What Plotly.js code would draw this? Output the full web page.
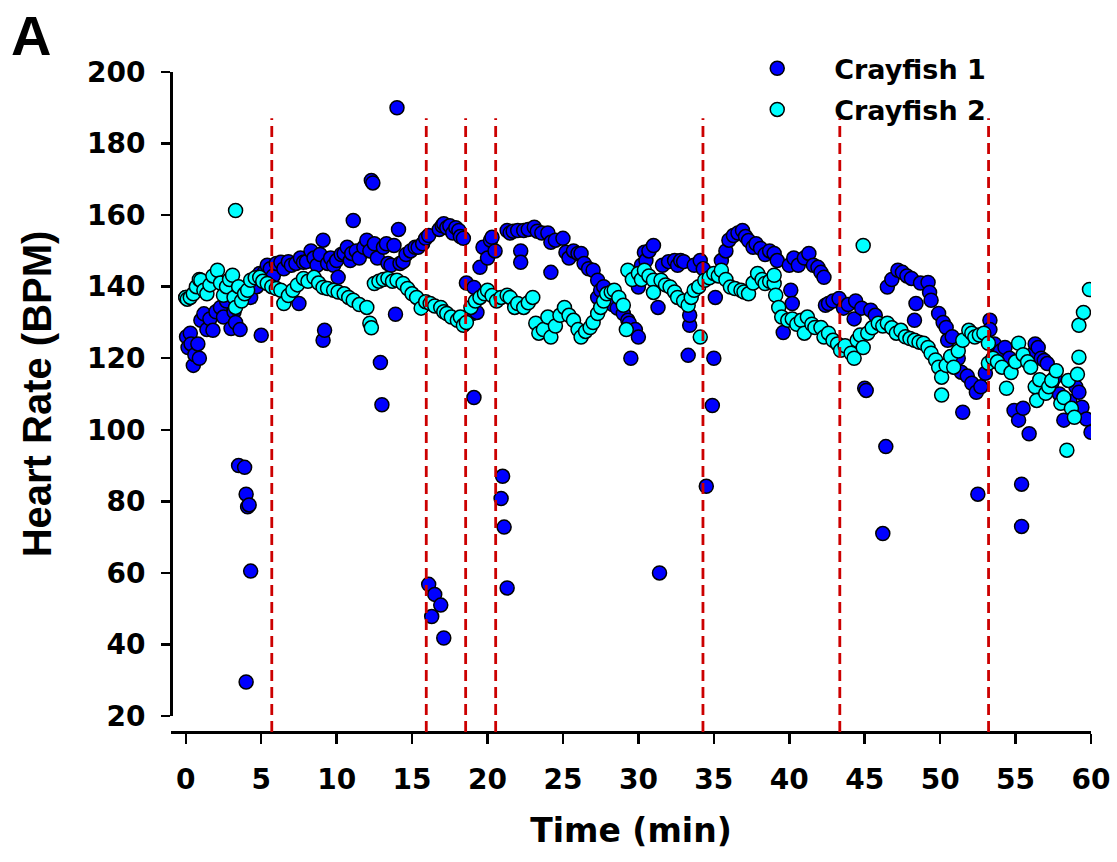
<!DOCTYPE html>
<html>
<head>
<meta charset="utf-8">
<script src="https://cdn.plot.ly/plotly-3.0.1.min.js"></script>
<style>html,body{margin:0;padding:0;background:#fff;}#chart{width:1117px;height:862px;}</style>
</head>
<body>
<div id="chart"></div>
<script>
// Crayfish 1 (blue): time (min) and heart rate (BPM)
const t1 = [0.0,0.05,0.1,0.15,0.3,0.35,0.5,0.6,0.8,0.9,1.0,1.2,1.4,1.6,1.8,2.0,2.3,2.5,2.7,3.0,3.2,3.3,3.5,3.6,3.9,4.0,4.0,4.1,4.2,4.3,4.3,4.5,4.7,4.9,5.0,
5.2,5.4,5.6,5.8,6.0,6.3,6.5,6.8,7.0,7.3,7.5,7.6,7.8,8.0,8.3,8.5,8.7,8.9,9.1,9.1,9.2,9.4,9.6,9.8,10.0,10.1,10.3,10.5,10.7,10.9,11.0,11.1,11.3,11.5,11.8,12.0,12.2,12.3,12.4,12.5,12.7,12.9,13.0,13.1,13.3,13.4,13.6,13.8,13.9,14.0,14.1,14.2,14.4,14.6,14.9,15.2,15.4,15.7,15.9,16.1,16.1,16.3,16.5,16.9,17.1,16.8,17.0,17.1,17.3,17.5,17.7,17.9,18.1,18.2,18.4,18.6,19.0,19.1,19.1,19.3,19.5,19.7,20.0,20.2,20.3,20.5,20.9,21.0,21.1,21.3,21.3,21.5,21.7,22.0,22.2,22.2,22.4,22.7,23.1,23.3,23.6,24.0,24.2,24.2,24.5,25.0,25.2,25.4,25.7,26.0,26.2,26.4,26.7,27.0,27.3,27.3,27.5,27.7,28.0,28.3,28.6,29.0,29.3,29.4,29.5,29.8,30.0,30.0,30.2,30.4,30.5,30.7,31.0,31.3,31.4,31.6,32.0,32.4,32.6,32.8,33.0,33.3,33.4,33.4,33.7,34.1,34.3,34.5,34.9,35.0,35.1,35.5,35.8,36.0,36.3,36.6,36.9,37.1,37.3,37.6,37.8,38.1,38.4,38.7,39.0,39.2,39.6,40.0,40.1,40.2,40.3,40.6,41.0,41.3,41.6,41.9,42.1,42.3,42.4,42.6,42.9,43.3,43.6,43.9,44.3,44.4,44.8,45.0,45.1,45.4,45.7,46.2,46.4,46.5,46.8,47.2,47.5,47.8,48.1,48.3,48.4,48.7,49.2,49.3,49.4,49.9,50.2,50.4,50.5,50.8,51.0,51.2,51.4,51.5,51.8,52.1,52.4,52.5,52.7,53.0,53.3,53.3,53.6,54.0,54.3,54.6,54.9,55.2,55.4,55.4,55.5,55.9,56.1,56.3,56.5,56.7,56.9,57.1,57.4,57.6,57.9,58.2,58.6,59.0,59.2,59.4,59.7,60.0];
const v1 = [137,126,137,123,127,124,118,121,124,120,130.6,132.4,128,131,127.8,133,134.2,131.5,136,128.3,133,130,90,128,89.5,82,29.5,78.5,79,137,60.5,141.8,140,143.7,126.4,
144,146,145,143,146.5,146.8,145,147,146,146.5,135.3,148,146.8,147,150,148,146,149,153,125,127.8,146.5,148,146,147.3,142.6,149,149.3,151,147.3,149.3,158.5,150,148,151,153,150,169.7,169,152,148,118.8,107,151,152,146.5,146,151.5,132.3,190,156,146.5,147,149,150,151,151,152,153.5,154.3,56.8,47.8,54,51,41.8,156,157,157.6,156.5,157,155,156.5,155.7,154,153.5,141,132.5,139.8,109,132.8,145.4,151,148,153,153.8,150,80.8,87,72.8,55.8,155.7,155,155.5,155.7,150,146.8,155.7,156,156.6,155.5,155,155,152.4,144,153,153.5,149.6,148,150,149.3,149.3,146.5,145,144.6,141.8,137,139,140,138,135,134,132.5,130.6,129.8,120,128,125.9,139.9,146,149.6,147.3,150,151.5,134.2,60,146,147,147.3,146,147.3,147,120.8,129.2,132,146,147.3,145,84.2,106.8,120,137,147.3,150,153,154.3,155,155.7,154,152.9,151,152,150.7,149,150,149.3,147.3,127.2,146,139,135.3,148,146,148,149.3,146,145.4,144,142.6,134.8,135.3,136,136.7,134,135,131,136,134,111.6,111,133.4,132,71,95.3,139.9,142,144.6,144,143,142.3,130.6,135.3,141,141.2,138.4,136.2,132.5,130,128.6,125,126,117.5,120,116.1,104.9,115,113,110.5,82,112,115.8,130.6,128,124,122,123,120,105.4,102.7,84.8,73,106,98.9,121,124,123,120,119.4,118.5,113,114.6,110,102.7,108,112,110.5,106.3,103,99.3];

// Crayfish 2 (cyan)
const t2 = [0.0,0.1,0.3,0.5,0.7,0.9,1.0,1.2,1.4,1.6,1.8,2.1,2.3,2.5,2.7,2.9,3.1,3.2,3.3,3.3,3.5,3.7,3.9,4.1,4.3,4.6,4.9,5.1,5.4,5.7,6.0,6.3,6.5,6.8,7.1,7.4,7.8,8.1,8.5,8.8,9.1,9.4,9.8,10.1,10.5,10.8,11.1,11.5,12.0,12.2,12.3,12.5,12.8,13.1,13.4,13.7,14.0,14.4,14.7,15.0,15.3,15.6,15.9,16.2,16.5,16.9,17.1,17.3,17.6,18.0,18.2,18.4,18.6,18.9,19.2,19.5,19.8,20.0,20.3,20.6,20.9,21.3,21.5,21.8,22.0,22.4,22.7,23.0,23.2,23.4,23.7,24.0,24.2,24.5,24.8,25.1,25.4,25.7,26.0,26.2,26.5,26.8,27.0,27.3,27.5,27.7,27.9,28.2,28.4,28.7,29.0,29.2,29.3,29.6,30.0,30.2,30.4,30.7,31.0,31.0,31.5,31.8,32.1,32.4,32.6,33.0,33.3,33.5,33.7,34.0,34.1,34.4,34.7,35.0,35.3,35.5,35.8,36.1,36.4,36.8,37.0,37.3,37.6,37.9,38.2,38.4,38.7,39.0,39.0,39.1,39.3,39.5,39.9,40.2,40.5,40.8,41.0,41.2,41.5,41.7,42.1,42.3,42.6,42.9,43.2,43.4,43.7,44.1,44.3,44.5,44.7,44.9,44.9,45.2,45.5,45.9,46.2,46.5,46.8,47.1,47.4,47.7,48.0,48.3,48.6,48.9,49.2,49.4,49.7,49.9,50.1,50.1,50.4,50.7,50.9,51.2,51.5,51.9,52.1,52.3,52.6,52.9,53.2,53.2,53.5,53.8,54.1,54.4,54.7,55.0,55.2,55.5,55.8,56.0,56.3,56.4,56.6,57.0,57.2,57.4,57.7,58.0,58.2,58.4,58.5,58.7,58.9,59.1,59.2,59.2,59.5,59.9];
const v2 = [137,136.5,137,138,140,142,141.8,139,138,140.5,143,144.6,141,137.6,140,142,143.2,137,161.3,134.2,140,136,138,139,141.8,142.5,142.6,141.5,140.9,140,139.5,139,135.3,137.5,139,140.5,142.3,141.5,142.6,141,139.8,139.5,139,138.5,138,137,136.2,135,134.2,129.8,128.5,140.9,141.5,142,142.3,141.5,141.8,140.9,139.5,138,137,134,135.8,135.3,134.6,134.2,133,132.5,131.5,130.6,131.5,129.2,130,134.2,136,137,138,139,137.5,136,137,137.6,137,134.2,135.3,134.2,135.5,137,129.8,127,128,131.5,125.9,129,132,134.2,132,130.6,128,125.9,127.5,128.6,130,132.5,134.2,136,138,138.5,139,137,134.8,128,144.6,142,143.7,142,144.6,143,141.8,138.4,141.8,140.5,139.9,138.5,137,136,134.8,137,139,140,125.9,141.8,142.5,143.7,143,144.6,142,139.9,139.5,139,138.5,138,141,143.7,142,140.9,141.5,140.9,143.2,137.6,134.2,131.5,130.6,131,129.5,130.6,127,131.5,129.5,128.6,128.6,125.9,127,125,124,122.2,123.5,121.4,120,125,126.5,151.5,123,127,128.5,129.8,129,129.8,128.5,127,127.8,126,125.5,125,124.5,124.2,123,121.4,119.5,117.5,114.7,109.7,118,120.5,117.5,122,125,127.8,127,125.9,126.5,127,124.2,118.6,120,119,117.5,111.6,116,119,124.2,121,119,117.5,112,108.2,114,110.2,112,113.8,116.5,107.4,109,94.3,113.8,106,103.5,115.5,120.3,129.2,132.8,139.2];

// Event markers (min)
const eventTimes = [5.7, 15.94, 18.55, 20.54, 34.28, 43.35, 53.21];

const xTicks = [0,5,10,15,20,25,30,35,40,45,50,55,60];
const yTicks = [20,40,60,80,100,120,140,160,180,200];

const markerLine = {color: '#000000', width: 1.5};
const traces = [
  {x: t1, y: v1, type: 'scatter', mode: 'markers', name: 'Crayfish 1', legendgroup: 'a',
   marker: {color: '#0000FF', size: 14, line: markerLine}},
  {x: t2, y: v2, type: 'scatter', mode: 'markers', name: 'Crayfish 2', legendgroup: 'b',
   marker: {color: '#00FFFF', size: 14, line: markerLine}}
];

const tickFont = {family: 'DejaVu Sans', size: 28, color: '#000', weight: 'bold'};

const shapes = eventTimes.map(t => ({
  type: 'line', xref: 'x', yref: 'paper', x0: t, x1: t, y0: 0, y1: 0.93,
  line: {color: '#CC0000', width: 2.8, dash: '11px,6px'}
}));

const layout = {
  width: 1117, height: 862,
  margin: {l: 171, r: 26, t: 72, b: 130},
  paper_bgcolor: '#ffffff', plot_bgcolor: '#ffffff',
  showlegend: true,
  legend: {x: 0.597, y: 1.042, xanchor: 'left', yanchor: 'top', xref: 'paper', yref: 'paper',
    font: {family: 'DejaVu Sans', size: 27, color: '#000', weight: 'bold'},
    itemwidth: 104, traceorder: 'grouped', tracegroupgap: 3, bgcolor: 'rgba(0,0,0,0)'},
  xaxis: {range: [-0.98, 60], tickvals: xTicks, ticktext: xTicks.map(String),
    anchor: 'free', position: 0, showline: true, linecolor: '#000', linewidth: 2.5,
    ticks: 'outside', ticklen: 10, tickwidth: 2.5, tickcolor: '#000',
    showgrid: false, zeroline: false, tickfont: tickFont, ticklabelstandoff: 12,
    title: {text: 'Time (min)', standoff: 23, font: {family: 'DejaVu Sans', size: 33, color: '#000', weight: 'bold'}}},
  yaxis: {range: [20, 200], domain: [0.0242, 1], tickvals: yTicks, ticktext: yTicks.map(String),
    anchor: 'free', position: 0, showline: true, linecolor: '#000', linewidth: 2.5,
    ticks: 'outside', ticklen: 9, tickwidth: 2.5, tickcolor: '#000',
    showgrid: false, zeroline: false, tickfont: tickFont, ticklabelstandoff: 10,
    title: {text: 'Heart Rate (BPM)', standoff: 22, font: {family: 'Liberation Sans', size: 40, color: '#000', weight: 'bold'}}},
  shapes: shapes,
  annotations: [{text: 'A', xref: 'paper', yref: 'paper', x: -0.176, y: 1.056, xanchor: 'left', yanchor: 'middle',
    showarrow: false, font: {family: 'Liberation Sans', size: 56, color: '#000', weight: 'bold'}}]
};

Plotly.newPlot('chart', traces, layout, {displayModeBar: false, staticPlot: true});
</script>
</body>
</html>
